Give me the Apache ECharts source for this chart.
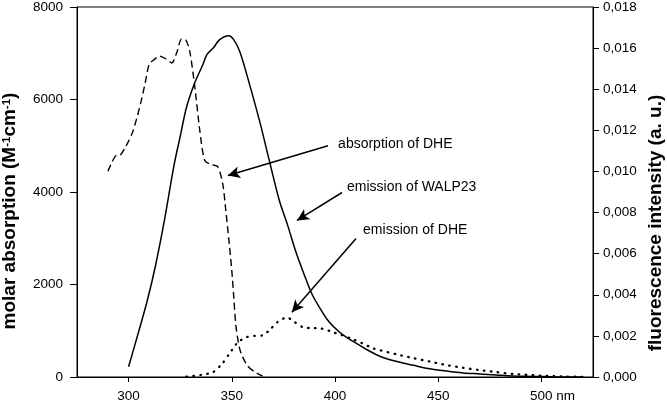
<!DOCTYPE html>
<html><head><meta charset="utf-8">
<script src="https://cdn.jsdelivr.net/npm/echarts@6/dist/echarts.min.js"></script>
<style>html,body{margin:0;padding:0;background:#fff}#c{width:667px;height:403px}</style>
</head><body><div id="c"></div>
<script>
// ---- data ----
const xTicks = [300, 350, 400, 450, 500];
// absorption of DHE (left axis, M-1 cm-1)
const absNm  = [290,292,294,296,298,300,302,304,306,308,310,312,315,318,321,323.3,325.7,327.7,329.6,332,334.5,336.9,340.3,343.2,345.6,347.1,348.5,350,351,352,354,357.3,361,365];
const absVal = [4450,4650,4790,4800,4940,5100,5300,5600,5950,6350,6770,6850,6940,6880,6790,7010,7310,7290,7050,6300,5330,4680,4590,4550,4180,3600,3000,2300,1700,1100,580,260,110,20];
// emission of WALP23 (right axis)
const walpNm  = [300,304,309,313,317.5,322,325,328,332,336,338,341,344,348.5,351,354,358.7,363.6,368,373,377,381,385,389,393,397,402,406,411,416,422,430,438,446,454,462,470,478,486,495,505,520];
const walpVal = [0.0005,0.0019,0.0037,0.0054,0.0077,0.0103,0.0117,0.0131,0.0143,0.0152,0.0157,0.0160,0.0164,0.0166,0.0164,0.0158,0.0142,0.0124,0.0106,0.0086,0.0074,0.0061,0.0050,0.0040,0.0033,0.0027,0.0022,0.0019,0.0016,0.0013,0.0010,0.00075,0.00057,0.0004,0.00029,0.0002,0.00015,0.0001,0.00005,0.00003,0.00001,0];
// emission of DHE (right axis)
const dheNm  = [328,335,341,345.6,349,353,357.3,361,365,368.5,372,376.7,380.6,384.5,388,392.7,399,403,407.3,413,418.4,422,430,438,446,454,462,470,478,486,494,503,512,520];
const dheVal = [0.00002,0.0001,0.00024,0.00068,0.00116,0.0017,0.00194,0.002,0.00203,0.0023,0.00266,0.0029,0.00266,0.00242,0.00238,0.00237,0.00218,0.00205,0.00189,0.00165,0.0014,0.0013,0.0011,0.00092,0.00075,0.00058,0.00045,0.00034,0.00024,0.00015,0.0001,0.00005,0.00002,0.00001];
// annotations (data coords on left axis): text anchor, arrow start, arrow end
const annText  = ['absorption of DHE', 'emission of WALP23', 'emission of DHE'];
const annLabel = [[401.5, 5045], [405.8, 4097], [413.6, 3169]];
const annFrom  = [[396.6, 5002], [403.4, 3989], [410.2, 2997]];
const annTo    = [[348.1, 4355], [381.6, 3385], [379.1, 1401]];

const pairs = (a, b) => a.map((v, i) => [v, b[i]]);
const FONT = 'Liberation Sans, Arial, sans-serif';
const chart = echarts.init(document.getElementById('c'), null, {renderer: 'canvas'});

chart.setOption({
  animation: false,
  backgroundColor: '#fff',
  grid: {left: 77, right: 74, top: 6, bottom: 26, show: true, borderColor: '#000', borderWidth: 1},
  xAxis: {
    type: 'value', min: 275, max: 525,
    axisLine: {lineStyle: {color: '#000', width: 1}},
    axisTick: {customValues: xTicks, length: 5, lineStyle: {color: '#000'}},
    axisLabel: {
      customValues: xTicks, margin: 12, color: '#000', fontSize: 13.5, fontFamily: FONT,
      formatter: v => v === 500 ? '{p|}500 nm' : String(v),
      rich: {p: {width: 22}}
    },
    splitLine: {show: false}
  },
  yAxis: [{
    type: 'value', min: 0, max: 8000, interval: 2000, position: 'left',
    axisLine: {show: true, lineStyle: {color: '#000'}},
    axisTick: {show: true, length: 7, lineStyle: {color: '#000'}},
    axisLabel: {margin: 14, color: '#000', fontSize: 13.5, fontFamily: FONT, formatter: v => String(v)},
    splitLine: {show: false}
  }, {
    type: 'value', min: 0, max: 0.018, interval: 0.002, position: 'right',
    axisLine: {show: true, lineStyle: {color: '#000'}},
    axisTick: {show: true, length: 6, lineStyle: {color: '#000'}},
    axisLabel: {margin: 10, color: '#000', fontSize: 13.5, fontFamily: FONT,
      formatter: v => v.toFixed(3).replace('.', ',')},
    splitLine: {show: false}
  }],
  graphic: [{
    type: 'text', x: 10, y: 211, rotation: Math.PI / 2,
    style: {
      text: '{b|molar absorption (M}{s|-1}{b|cm}{s|-1}{b|)}',
      align: 'center', verticalAlign: 'middle',
      rich: {
        b: {fontSize: 19, fontWeight: 'bold', fontFamily: FONT, fill: '#000', verticalAlign: 'bottom'},
        s: {fontSize: 11.5, fontWeight: 'bold', fontFamily: FONT, fill: '#000', verticalAlign: 'top'}
      }
    }
  }, {
    type: 'text', x: 656, y: 223, rotation: Math.PI / 2,
    style: {
      text: 'fluorescence intensity (a. u.)', align: 'center', verticalAlign: 'middle',
      fontSize: 19, fontWeight: 'bold', fontFamily: FONT, fill: '#000'
    }
  }],
  series: [{
    name: 'absorption of DHE', type: 'line', yAxisIndex: 0, showSymbol: false, smooth: 0.25,
    data: pairs(absNm, absVal),
    lineStyle: {color: '#000', width: 1.4, type: [7, 4]},
    markLine: {
      silent: true, symbol: ['none', 'arrow'], symbolSize: [9, 12],
      lineStyle: {color: '#000', width: 1.5, type: 'solid'}, label: {show: false},
      data: annFrom.map((f, i) => [{coord: f}, {coord: annTo[i]}])
    },
    markPoint: {
      silent: true, symbol: 'circle', symbolSize: 0,
      label: {show: true, position: 'right', distance: 0, color: '#000', fontSize: 14, fontFamily: FONT,
        formatter: p => p.name},
      data: annLabel.map((c, i) => ({name: annText[i], coord: c}))
    }
  }, {
    name: 'emission of WALP23', type: 'line', yAxisIndex: 1, showSymbol: false, smooth: 0.3,
    data: pairs(walpNm, walpVal),
    lineStyle: {color: '#000', width: 1.5, type: 'solid'}
  }, {
    name: 'emission of DHE', type: 'line', yAxisIndex: 1, showSymbol: false, smooth: 0.25,
    data: pairs(dheNm, dheVal),
    lineStyle: {color: '#000', width: 2.3, type: [0.6, 6.4], cap: 'round'}
  }]
});
</script></body></html>
